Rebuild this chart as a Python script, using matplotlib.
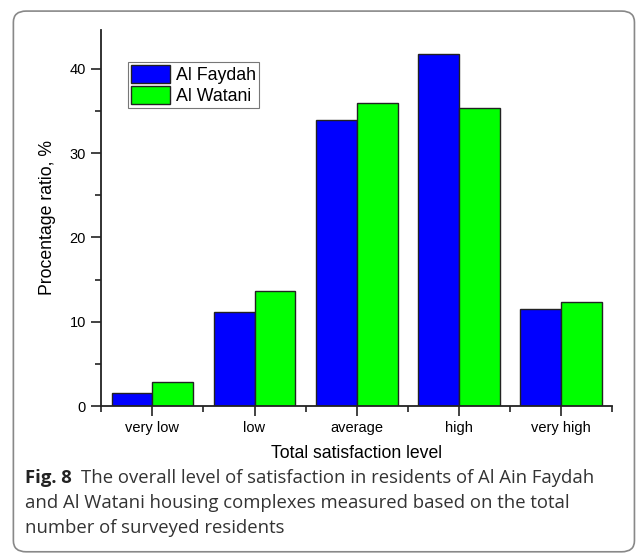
import numpy as np
import matplotlib.pyplot as plt
from matplotlib.patches import FancyBboxPatch
from matplotlib.ticker import MultipleLocator

# Data
categories = ['very low', 'low', 'average', 'high', 'very high']
al_faydah = [1.6, 11.2, 33.9, 41.8, 11.5]
al_watani = [2.9, 13.6, 35.9, 35.4, 12.3]

plt.rcParams['font.family'] = ['Liberation Sans', 'DejaVu Sans']

fig = plt.figure(figsize=(6.37, 5.54), dpi=100)
ax = fig.add_axes([0.159, 0.267, 0.802, 0.679])

x = np.arange(len(categories))
w = 0.4
ax.bar(x - w / 2, al_faydah, w, color='#0000ff', edgecolor='#222222', linewidth=1, label='Al Faydah')
ax.bar(x + w / 2, al_watani, w, color='#00ff00', edgecolor='#222222', linewidth=1, label='Al Watani')

ax.set_xlim(-0.5, 4.5)
ax.set_ylim(0, 44.6)
ax.set_xticks(x)
ax.set_xticklabels(categories)
ax.xaxis.set_minor_locator(MultipleLocator(1, offset=0.5))
ax.yaxis.set_major_locator(MultipleLocator(10))
ax.yaxis.set_minor_locator(MultipleLocator(5))
ax.tick_params(axis='both', which='major', length=7, width=1.2, labelsize=10.5, color='#222222', pad=4)
ax.tick_params(axis='both', which='minor', length=4, width=1.2, color='#222222')

for s in ['top', 'right']:
    ax.spines[s].set_visible(False)
for s in ['left', 'bottom']:
    ax.spines[s].set_linewidth(1.3)
    ax.spines[s].set_color('#222222')

ax.set_xlabel('Total satisfaction level', fontsize=12.7, labelpad=7)
ax.set_ylabel('Procentage ratio, %', fontsize=12.7, labelpad=10)

leg = ax.legend(loc='upper left', bbox_to_anchor=(0.053, 0.915), fontsize=12.8, frameon=True,
                fancybox=False, edgecolor='#555555', borderpad=0.15, handlelength=2.2,
                handleheight=1.2, handletextpad=0.35, labelspacing=0.12, borderaxespad=0)
leg.get_frame().set_linewidth(0.8)

# caption
cap_size = 13.3
y1, y2, y3 = 1 - 478 / 554, 1 - 503 / 554, 1 - 528 / 554
bold = fig.text(0.04, y1, 'Fig. 8', fontsize=cap_size, family='Open Sans', fontweight='bold',
                color='#222222', va='center')
fig.canvas.draw()
bb = bold.get_window_extent().transformed(fig.transFigure.inverted())
fig.text(bb.x1 + 0.013, y1, 'The overall level of satisfaction in residents of Al Ain Faydah',
         fontsize=cap_size, family='Open Sans', color='#333333', va='center')
fig.text(0.04, y2, 'and Al Watani housing complexes measured based on the total',
         fontsize=cap_size, family='Open Sans', color='#333333', va='center')
fig.text(0.04, y3, 'number of surveyed residents',
         fontsize=cap_size, family='Open Sans', color='#333333', va='center')

# rounded frame
frame = FancyBboxPatch((0.021, 0.004), 0.975, 0.976, boxstyle='round,pad=0,rounding_size=0.02',
                       transform=fig.transFigure, fill=False, edgecolor='#888888', linewidth=1.2)
fig.patches.append(frame)

fig.savefig('out.png', dpi=100)
